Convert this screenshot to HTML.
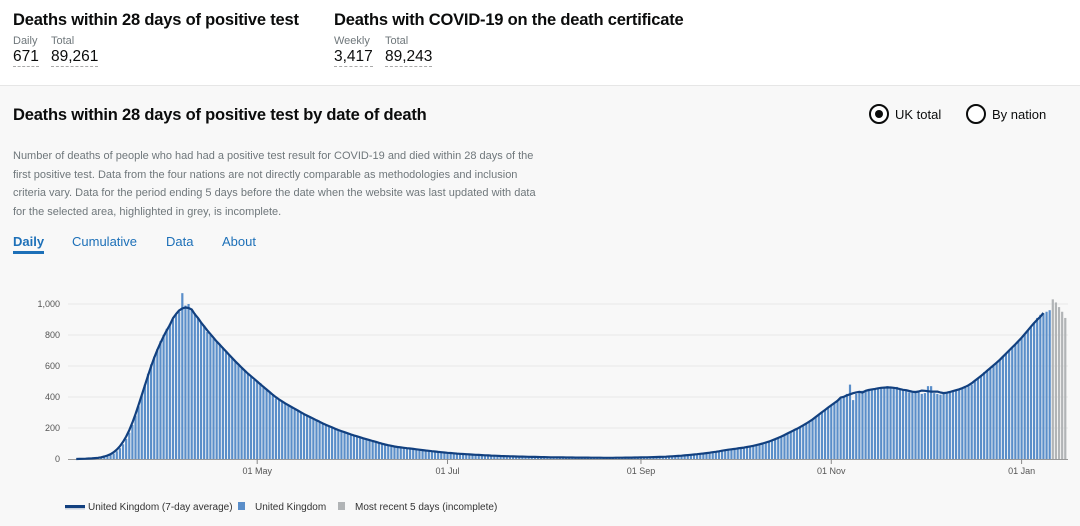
<!DOCTYPE html>
<html><head><meta charset="utf-8"><style>
*{margin:0;padding:0;box-sizing:border-box}
body{width:1080px;height:526px;overflow:hidden;font-family:"Liberation Sans",sans-serif;background:#f8f8f8;color:#0b0c0c;position:relative}
#top{position:absolute;left:0;top:0;width:1080px;height:86px;background:#fff;border-bottom:1px solid #e6e6e6}
.h{position:absolute;font-weight:bold;font-size:16.5px;top:11px;letter-spacing:-0.2px}
.lab{position:absolute;font-size:11px;color:#6f777b;top:35px}
.val{position:absolute;font-size:15.5px;top:48px;border-bottom:1px dashed #aaa;line-height:18px}
#title{position:absolute;left:13px;top:106px;font-weight:bold;font-size:16.5px;letter-spacing:-0.2px}
#desc{position:absolute;left:13px;top:147px;width:526px;font-size:11px;line-height:18.6px;color:#6f777b}
.tab{position:absolute;top:234px;font-size:13px;color:#1d70b8}
.radio{position:absolute;top:104px;width:20px;height:20px;border:2px solid #0b0c0c;border-radius:50%;background:#fff}
.rl{position:absolute;top:107px;font-size:13px}
</style></head><body>
<div id="top">
<div class="h" style="left:13px">Deaths within 28 days of positive test</div>
<div class="lab" style="left:13px">Daily</div>
<div class="lab" style="left:51px">Total</div>
<div class="val" style="left:13px">671</div>
<div class="val" style="left:51px">89,261</div>
<div class="h" style="left:334px">Deaths with COVID-19 on the death certificate</div>
<div class="lab" style="left:334px">Weekly</div>
<div class="lab" style="left:385px">Total</div>
<div class="val" style="left:334px">3,417</div>
<div class="val" style="left:385px">89,243</div>
</div>
<div id="title">Deaths within 28 days of positive test by date of death</div>
<div class="radio" style="left:869px"><div style="position:absolute;left:4px;top:4px;width:8px;height:8px;border-radius:50%;background:#0b0c0c"></div></div>
<div class="rl" style="left:895px">UK total</div>
<div class="radio" style="left:966px"></div>
<div class="rl" style="left:992px">By nation</div>
<div id="desc">Number of deaths of people who had had a positive test result for COVID-19 and died within 28 days of the first positive test. Data from the four nations are not directly comparable as methodologies and inclusion criteria vary. Data for the period ending 5 days before the date when the website was last updated with data for the selected area, highlighted in grey, is incomplete.</div>
<div class="tab" style="left:13px;font-weight:bold;border-bottom:3px solid #1d70b8;padding-bottom:2px">Daily</div>
<div class="tab" style="left:72px">Cumulative</div>
<div class="tab" style="left:166px">Data</div>
<div class="tab" style="left:222px">About</div>
<svg id="chart" width="1080" height="526" style="position:absolute;left:0;top:0"></svg>
<script>
const yTicks=[0,200,400,600,800,1000];
const yTickLabels=["0","200","400","600","800","1,000"];
const xTickDays=[60,121,183,244,305];
const xTickLabels=["01 May","01 Jul","01 Sep","01 Nov","01 Jan"];
const deaths=[
0,0,0,1,1,2,2,3,5,
7,9,12,18,25,35,50,70,95,130,
170,220,280,340,410,480,550,610,660,710,760,
800,840,870,900,930,950,1070,990,1000,960,
940,910,880,860,820,800,780,760,740,720,
690,670,650,630,610,590,570,550,530,510,
500,490,470,450,430,410,390,380,370,360,350,340,320,310,300,290,280,270,260,250,240,230,220,210,200,195,190,180,170,165,160,
150,145,140,135,130,120,115,110,105,100,95,85,82,80,77,75,72,70,68,65,62,60,58,55,52,50,48,46,44,42,
40,38,36,35,34,32,30,30,28,27,26,25,24,23,22,21,20,20,19,18,17,17,16,16,15,15,14,14,13,13,12,
12,12,11,11,11,10,10,10,10,9,9,9,9,9,9,9,8,8,8,8,8,8,8,8,8,8,9,9,9,10,10,
10,10,11,12,12,13,13,14,15,16,17,18,19,21,23,25,27,29,31,33,35,38,40,43,46,50,53,57,60,65,
65,68,70,73,76,80,84,90,95,100,105,110,118,125,135,145,155,165,175,185,195,205,215,225,240,255,270,285,300,320,335,
345,360,380,390,400,420,480,380,420,430,440,440,445,450,455,455,460,460,470,465,460,465,450,445,440,430,435,440,430,420,
425,470,470,425,420,415,420,425,430,440,445,450,455,460,470,480,500,520,540,560,570,580,600,620,640,660,680,700,720,740,760,
780,800,830,850,880,910,930,940,950,960,1030,1010,980,950,910];
const incompleteDays=5;
const NS='http://www.w3.org/2000/svg';
const svg=document.getElementById('chart');
const X=d=>70+d*3.12, Y=v=>459-v*0.155;
function mk(t,a,p){const e=document.createElementNS(NS,t);for(const k in a)e.setAttribute(k,a[k]);(p||svg).appendChild(e);return e;}
yTicks.forEach((t,i)=>{
 if(t>0){const g=mk('line',{x1:68,x2:1068,y1:Y(t),y2:Y(t),stroke:'#e8e8e8','stroke-width':1});
 
 }
 const l=mk('text',{x:60,y:Y(t)+3,'text-anchor':'end','font-size':9,fill:'#555','font-family':'Liberation Sans, sans-serif'});
 l.textContent=yTickLabels[i];
 
 
});
const n=deaths.length;
deaths.forEach((v,i)=>{
 const grey=i>=n-incompleteDays;
 const b=mk('rect',{x:X(i)-1.1,y:Y(v),width:2.2,height:459-Y(v),fill:grey?'#b1b4b6':'#5a8ec9'});
 
 
});
const ax=mk('line',{x1:68,x2:1068,y1:459.5,y2:459.5,stroke:'#999','stroke-width':1});


xTickDays.forEach((d,i)=>{
 mk('line',{x1:X(d),x2:X(d),y1:459,y2:464,stroke:'#888'});
 const l=mk('text',{x:X(d),y:474,'text-anchor':'middle','font-size':9,fill:'#555','font-family':'Liberation Sans, sans-serif'});
 l.textContent=xTickLabels[i];
 
 
});
let pts=[];
for(let i=3;i<=n-incompleteDays-3;i++){let s=0;for(let k=-3;k<=3;k++)s+=deaths[i+k];pts.push(X(i).toFixed(1)+','+Y(s/7).toFixed(1));}
pts.unshift(X(2)+','+Y(0));
const line=mk('polyline',{points:pts.join(' '),fill:'none',stroke:'#12407f','stroke-width':2.2,'stroke-linejoin':'round'});


const lg=mk('g',{});


mk('rect',{x:65,y:505,width:20,height:3,fill:'#12407f'},lg);
mk('rect',{x:65,y:508,width:20,height:1.5,fill:'#c8d0dc'},lg);
mk('rect',{x:238,y:502,width:7,height:8,fill:'#5a8ec9'},lg);
mk('rect',{x:338,y:502,width:7,height:8,fill:'#b1b4b6'},lg);
[[88,'United Kingdom (7-day average)'],[255,'United Kingdom'],[355,'Most recent 5 days (incomplete)']].forEach(([x,t])=>{
 const e=mk('text',{x:x,y:510,'font-size':10,fill:'#333','font-family':'Liberation Sans, sans-serif'},lg);
 e.textContent=t;
 
 
});
</script>
</body></html>
